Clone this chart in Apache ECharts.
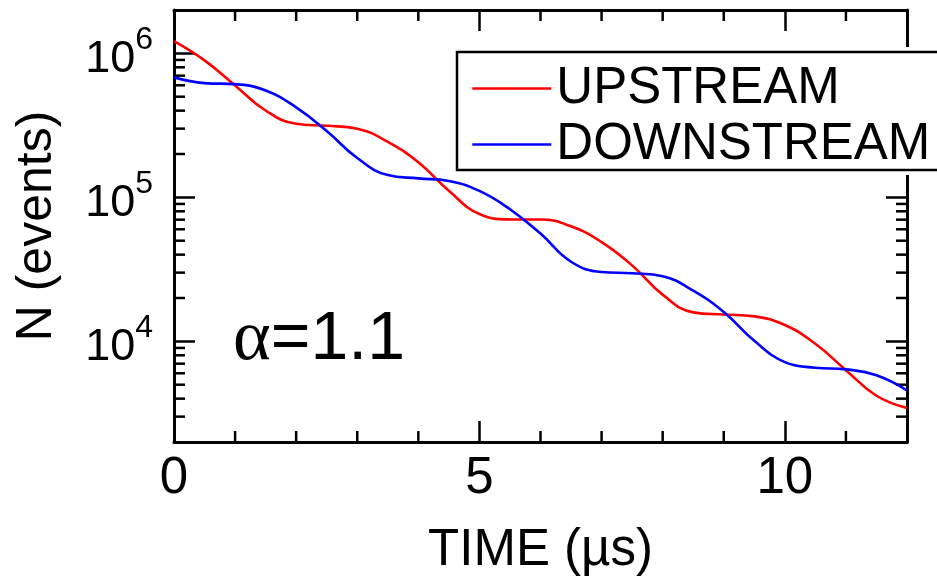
<!DOCTYPE html>
<html>
<head>
<meta charset="utf-8">
<script src="https://cdn.jsdelivr.net/npm/echarts@6/dist/echarts.min.js"></script>
<style>html,body{margin:0;padding:0;background:#fff;}#chart{width:937px;height:581px;}</style>
</head>
<body>
<div id="chart"></div>
<script>
// ---- data ----
const timeUs = [0,0.5,1,1.5,2,2.5,3,3.5,4,4.5,5,5.5,6,6.5,7,7.5,8,8.5,9,9.5,10,10.5,11,11.5,12];
const upstream = [1.217e6,8.94e5,5.99e5,4.01e5,3.24e5,3.14e5,2.995e5,2.43e5,1.75e5,1.111e5,7.66e4,7.03e4,7.02e4,6.29e4,4.89e4,3.37e4,2.11e4,1.59e4,1.535e4,1.49e4,1.298e4,9.62e3,6.31e3,4.19e3,3.45e3];
const downstream = [6.81e5,6.21e5,6.11e5,5.52e5,4.22e5,2.89e5,1.875e5,1.428e5,1.355e5,1.30e5,1.108e5,8.27e4,5.60e4,3.57e4,3.03e4,2.97e4,2.83e4,2.25e4,1.60e4,1.008e4,7.18e3,6.56e3,6.39e3,5.82e3,4.57e3];
const seriesNames = ['UPSTREAM','DOWNSTREAM'];
const xMinorTicks = [1,2,3,4,6,7,8,9,11];
const yMinorTicks = [3e3,4e3,5e3,6e3,7e3,8e3,9e3,2e4,3e4,4e4,5e4,6e4,7e4,8e4,9e4,2e5,3e5,4e5,5e5,6e5,7e5,8e5,9e5];
const xRange = [0, 12];
const yRange = [2000, 2000000];
const annotation = '=1.1';

const FONT = 'Liberation Sans';
const chart = echarts.init(document.getElementById('chart'));

function isPow10(v){ const l = Math.log10(v); return Math.abs(l - Math.round(l)) < 1e-6; }

const xBase = {
  type:'value', min:xRange[0], max:xRange[1], interval:5,
  axisLine:{onZero:false, lineStyle:{color:'#000', width:3}},
  axisTick:{inside:true, length:21, lineStyle:{color:'#000', width:2.5}},
  splitLine:{show:false}
};
const yBase = {
  type:'log', logBase:10, min:yRange[0], max:yRange[1],
  axisLine:{onZero:false, lineStyle:{color:'#000', width:3}},
  axisTick:{inside:true, length:21, lineStyle:{color:'#000', width:2.5}},
  splitLine:{show:false}
};

const option = {
  backgroundColor:'#fff',
  animation:false,
  grid:{left:174, top:10, width:733, height:432, containLabel:false, outerBoundsMode:'none'},
  xAxis:[
    Object.assign({}, xBase, {
      position:'bottom',
      name:'TIME (µs)', nameLocation:'middle', nameGap:83,
      nameTextStyle:{fontFamily:FONT, fontSize:51, color:'#000'},
      axisLabel:{fontFamily:FONT, fontSize:51, color:'#000', margin:11, showMaxLabel:false,
        formatter:function(v){ return (v % 5 === 0) ? String(v) : ''; }}
    }),
    Object.assign({}, xBase, {position:'top', axisLabel:{show:false}})
  ],
  yAxis:[
    Object.assign({}, yBase, {
      position:'left',
      name:'N (events)', nameLocation:'middle', nameGap:112, nameRotate:90,
      nameTextStyle:{fontFamily:FONT, fontSize:50, color:'#000'},
      axisLabel:{
        margin:21, showMinLabel:false, showMaxLabel:false, color:'#000', fontFamily:FONT,
        formatter:function(v){
          if(!isPow10(v)) return '';
          return '{b|10}{s|' + Math.round(Math.log10(v)) + '}';
        },
        rich:{
          b:{fontFamily:FONT, fontSize:45, lineHeight:44, color:'#000', verticalAlign:'bottom'},
          s:{fontFamily:FONT, fontSize:32, color:'#000', verticalAlign:'top', padding:[0,0,26,0]}
        }
      }
    }),
    Object.assign({}, yBase, {position:'right', axisLabel:{show:false}})
  ],
  legend:{
    orient:'vertical', left:457, top:52,
    data:seriesNames,
    itemWidth:79, itemHeight:2, itemGap:5,
    padding:[11,10,11,14],
    lineStyle:{width:2.6},
    textStyle:{fontFamily:FONT, fontSize:51, color:'#000', lineHeight:46},
    z:5
  },
  graphic:[
    {type:'rect', shape:{x:452, y:47, width:500, height:128}, style:{fill:'#fff'}, z:3, silent:true},
    {type:'rect', shape:{x:457, y:52, width:500, height:118}, style:{fill:'#fff', stroke:'#000', lineWidth:2.5}, z:4, silent:true},
    {type:'text', x:233, y:340, z:4, silent:true,
      style:{
        text:'{a|α}{n|' + annotation + '}',
        verticalAlign:'middle', align:'left',
        rich:{
          a:{fontFamily:'Liberation Serif', fontSize:72, fill:'#000'},
          n:{fontFamily:FONT, fontSize:68, fill:'#000'}
        }
      }
    }
  ],
  series:[
    {
      name:seriesNames[0], type:'line', xAxisIndex:0, yAxisIndex:0,
      data:timeUs.map(function(t,i){ return [t, upstream[i]]; }),
      symbol:'none', smooth:0.45,
      lineStyle:{color:'#ff0000', width:2.6}, itemStyle:{color:'#ff0000'}, z:2
    },
    {
      name:seriesNames[1], type:'line', xAxisIndex:0, yAxisIndex:0,
      data:timeUs.map(function(t,i){ return [t, downstream[i]]; }),
      symbol:'none', smooth:0.45,
      lineStyle:{color:'#0000ff', width:2.6}, itemStyle:{color:'#0000ff'}, z:2
    },
    {
      type:'custom', xAxisIndex:0, yAxisIndex:0, silent:true, z:1,
      data:xMinorTicks.map(function(t){ return [t, 1e4]; }),
      renderItem:function(params, api){
        const cs = params.coordSys;
        const px = api.coord([api.value(0), api.value(1)])[0];
        const st = {stroke:'#000', lineWidth:2.5};
        return {type:'group', children:[
          {type:'line', shape:{x1:px, y1:cs.y+cs.height, x2:px, y2:cs.y+cs.height-11}, style:st},
          {type:'line', shape:{x1:px, y1:cs.y, x2:px, y2:cs.y+11}, style:st}
        ]};
      }
    },
    {
      type:'custom', xAxisIndex:0, yAxisIndex:0, silent:true, z:1,
      data:yMinorTicks.map(function(v){ return [1, v]; }),
      renderItem:function(params, api){
        const cs = params.coordSys;
        const py = api.coord([api.value(0), api.value(1)])[1];
        const st = {stroke:'#000', lineWidth:2.5};
        return {type:'group', children:[
          {type:'line', shape:{x1:cs.x, y1:py, x2:cs.x+11, y2:py}, style:st},
          {type:'line', shape:{x1:cs.x+cs.width, y1:py, x2:cs.x+cs.width-11, y2:py}, style:st}
        ]};
      }
    }
  ]
};
chart.setOption(option);
</script>
</body>
</html>
